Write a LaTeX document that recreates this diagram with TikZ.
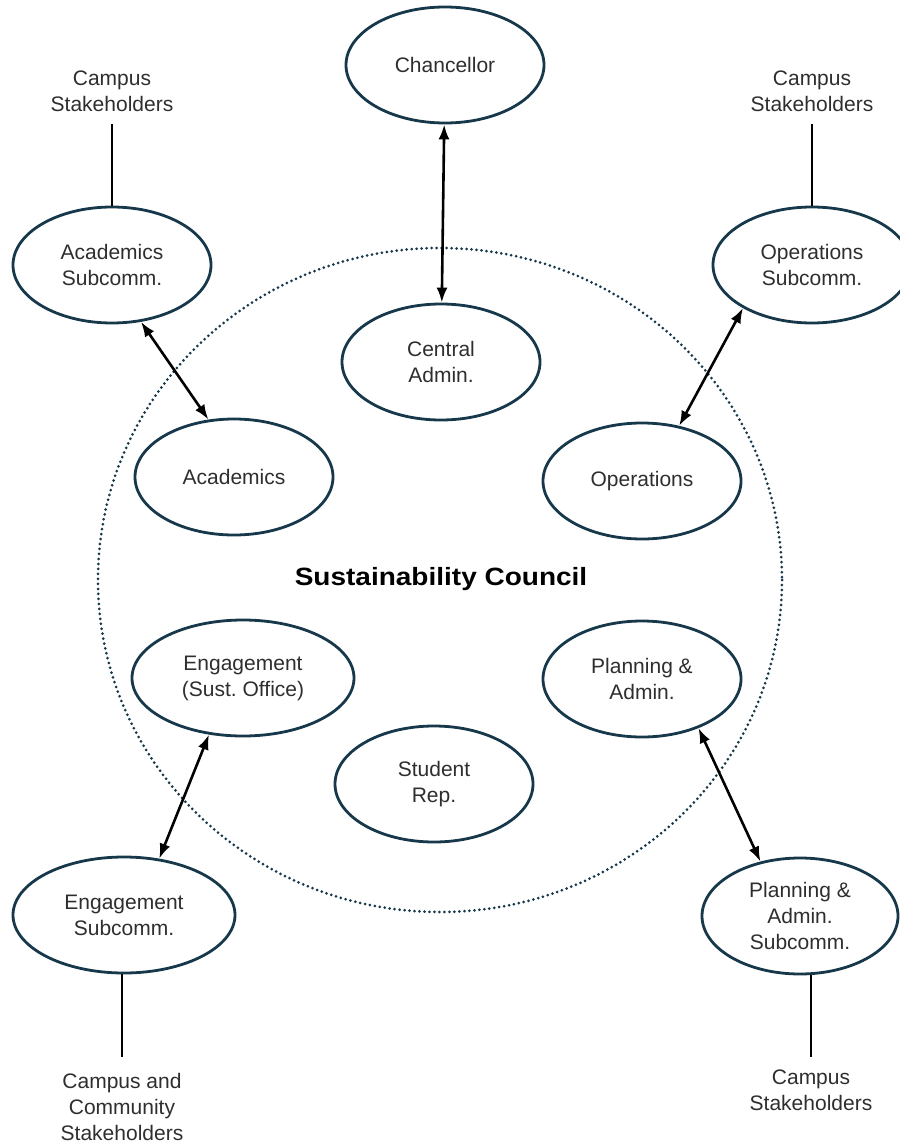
\documentclass[tikz,border=0pt]{standalone}
\usepackage{fontspec}
\setmainfont{Liberation Sans}
\newfontfamily\councilfont[FakeStretch=1.12]{Liberation Sans}
\usetikzlibrary{shapes.geometric, arrows.meta}
\definecolor{councilteal}{HTML}{16384A}
\definecolor{inktext}{HTML}{2E2E2E}

\begin{document}
\begin{tikzpicture}[x=1pt, y=-1pt,
	line width = 2.8pt,
	unit/.style={draw=councilteal, ellipse, inner sep=0pt, minimum width=198pt, minimum height=116pt, align=center, text=inktext, font=\fontsize{21}{26}\selectfont},
	wideunit/.style={unit, minimum width=222pt},
	stake/.style={align=center, inner xsep=0pt, inner ysep=11pt, text=inktext, font=\fontsize{21}{26}\selectfont},
	link/.style={{Latex[length=15pt,width=11pt]}-{Latex[length=15pt,width=11pt]}, line width=2.6pt, black},
	tie/.style={line width=2.6pt, black}]

	\useasboundingbox (0,0) rectangle (899,1145);

	% council boundary
	\draw[councilteal, line width=3pt, line cap=round, dash pattern=on 0pt off 5pt] (440,580) ellipse [x radius=342, y radius=332];
	\node[font=\councilfont\bfseries\fontsize{25}{30}\selectfont, text=black] (council) at (441,579) {Sustainability Council};

	% members
	\node[unit] (chan) at (445,65) {Chancellor};
	\node[unit] (cadmin) at (441,362) {Central\\Admin.};
	\node[unit] (acad) at (234,477) {Academics};
	\node[unit] (ops) at (642,481) {Operations};
	\node[wideunit] (eng) at (243,678) {Engagement\\(Sust.\ Office)};
	\node[unit] (plan) at (642,679) {Planning \&\\Admin.};
	\node[unit] (stud) at (434,784) {Student\\Rep.};

	% subcommittees
	\node[unit] (acsub) at (112,265) {Academics\\Subcomm.};
	\node[unit] (opsub) at (812,265) {Operations\\Subcomm.};
	\node[wideunit] (engsub) at (124,915) {Engagement\\Subcomm.};
	\node[unit, minimum width=196pt] (plansub) at (800,916) {Planning \&\\Admin.\\Subcomm.};

	% stakeholders
	\node[stake, anchor=south] (stkA) at (112,124) {Campus\\Stakeholders};
	\node[stake, anchor=south] (stkO) at (812,124) {Campus\\Stakeholders};
	\node[stake, anchor=north, inner ysep=15pt] (stkE) at (122,1057) {Campus and\\Community\\Stakeholders};
	\node[stake, anchor=north] (stkP) at (811,1057) {Campus\\Stakeholders};

	\draw[link] (chan) -- (cadmin);
	\draw[link] (acsub.-63) -- (acad.114);
	\draw[link] (opsub.212) -- (ops.56);
	\draw[link] (eng.239) -- (engsub.58);
	\draw[link] (plan.-41) -- (plansub.126);

	\draw[tie] (stkA.south) -- (acsub.north);
	\draw[tie] (stkO.south) -- (opsub.north);
	\draw[tie] (engsub.south -| stkE.north) -- (stkE.north);
	\draw[tie] (plansub.south -| stkP.north) -- (stkP.north);

\end{tikzpicture}
\end{document}
